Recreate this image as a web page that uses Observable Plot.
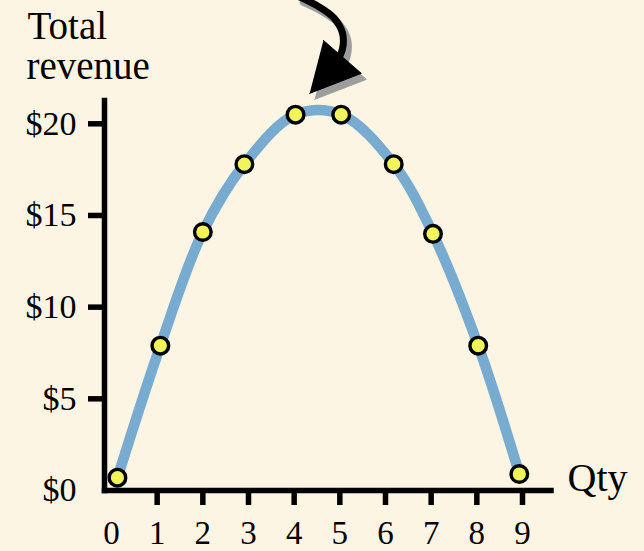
<!DOCTYPE html>
<html>
<head>
<meta charset="utf-8">
<script src="https://cdn.jsdelivr.net/npm/d3@7"></script>
<script src="https://cdn.jsdelivr.net/npm/@observablehq/plot@0.6"></script>
<style>
  html, body { margin: 0; padding: 0; background: #fdf5e3; }
  #chart svg { display: block; }
</style>
</head>
<body>
<div id="chart"></div>
<script>
// Total revenue at each quantity sold
const qty = [0.13, 1.07, 2.0, 2.91, 4.03, 5.03, 6.18, 7.04, 8.03, 8.93];
const revenue = [0.7, 7.9, 14.1, 17.8, 20.5, 20.5, 17.8, 14.0, 7.9, 0.9];

// Axis ticks
const qtyTicks = [0, 1, 2, 3, 4, 5, 6, 7, 8, 9];
const revenueTicks = [0, 5, 10, 15, 20];

// Axis titles
const yTitleLines = ["Total", "revenue"];
const xTitle = "Qty";

// Curved pointer toward the revenue peak (data units)
const arrowShaftX = [4.09, 4.53, 4.88, 5.06, 5.06, 4.93, 4.80];
const arrowShaftY = [26.95, 26.4, 25.75, 24.93, 24.11, 23.35, 22.91];
const arrowHeadX = [4.64, 5.47, 4.34];
const arrowHeadY = [24.55, 22.75, 21.66];

const points = qty.map((q, i) => ({qty: q, revenue: revenue[i]}));
const shaft = arrowShaftX.map((x, i) => ({x, y: arrowShaftY[i]}));
const head = arrowHeadX.map((x, i) => ({x, y: arrowHeadY[i]}));

const serif = "'Liberation Serif', 'Times New Roman', serif";
const ink = "#000";
const shadow = "#9d9d9d";

const chart = Plot.plot({
  width: 644,
  height: 551,
  marginLeft: 104,
  marginTop: 100,
  marginBottom: 61,
  marginRight: 93.5,
  x: {domain: [0, 9], range: [111, 522]},
  y: {domain: [0, 20], range: [490, 123.3]},
  style: {background: "#fdf5e3", color: ink, fontFamily: serif},
  marks: [
    // axis lines
    Plot.frame({anchor: "left", stroke: ink, strokeWidth: 5.5, strokeLinecap: "square"}),
    Plot.frame({anchor: "bottom", stroke: ink, strokeWidth: 5.5, strokeLinecap: "square"}),
    // y ticks and labels
    Plot.axisY(revenueTicks.slice(1), {tickSize: 16, strokeWidth: 5.5, text: null, label: null}),
    Plot.axisY(revenueTicks, {tickSize: 0, tickPadding: 28, tickFormat: d => "$" + d,
      fontSize: 34, fontFamily: serif, fill: ink, label: null}),
    // x ticks and labels
    Plot.axisX(qtyTicks.slice(1), {tickSize: 15, strokeWidth: 5.5, text: null, label: null}),
    Plot.axisX(qtyTicks, {tickSize: 0, tickPadding: 30, fontSize: 33, fontFamily: serif,
      fill: ink, label: null}),
    // axis titles, one line each
    Plot.text(yTitleLines.slice(0, 1), {frameAnchor: "top-left", textAnchor: "start",
      lineAnchor: "bottom", dx: -77, dy: -62, fontSize: 39, fontFamily: serif, fill: ink}),
    Plot.text(yTitleLines.slice(1), {frameAnchor: "top-left", textAnchor: "start",
      lineAnchor: "bottom", dx: -78, dy: -22, fontSize: 39, fontFamily: serif, fill: ink}),
    Plot.text([xTitle], {frameAnchor: "bottom-right", textAnchor: "start", dx: 16.5,
      fontSize: 40, fontFamily: serif, fill: ink}),
    // revenue curve and points
    Plot.line(points, {x: "qty", y: "revenue", curve: "catmull-rom", stroke: "#77abd0",
      strokeWidth: 10.5}),
    Plot.dot(points, {x: "qty", y: "revenue", r: 8.3, fill: "#f1f55a", stroke: ink,
      strokeWidth: 3.4}),
    // arrow shadow
    Plot.line(shaft, {x: "x", y: "y", curve: "catmull-rom", stroke: shadow, strokeWidth: 7,
      dx: 5, dy: 6}),
    Plot.line(head, {x: "x", y: "y", fill: shadow, stroke: shadow, strokeWidth: 1,
      dx: 5, dy: 6}),
    // arrow
    Plot.line(shaft, {x: "x", y: "y", curve: "catmull-rom", stroke: ink, strokeWidth: 7}),
    Plot.line(head, {x: "x", y: "y", fill: ink, stroke: ink, strokeWidth: 1})
  ]
});

document.getElementById("chart").append(chart);
</script>
</body>
</html>
